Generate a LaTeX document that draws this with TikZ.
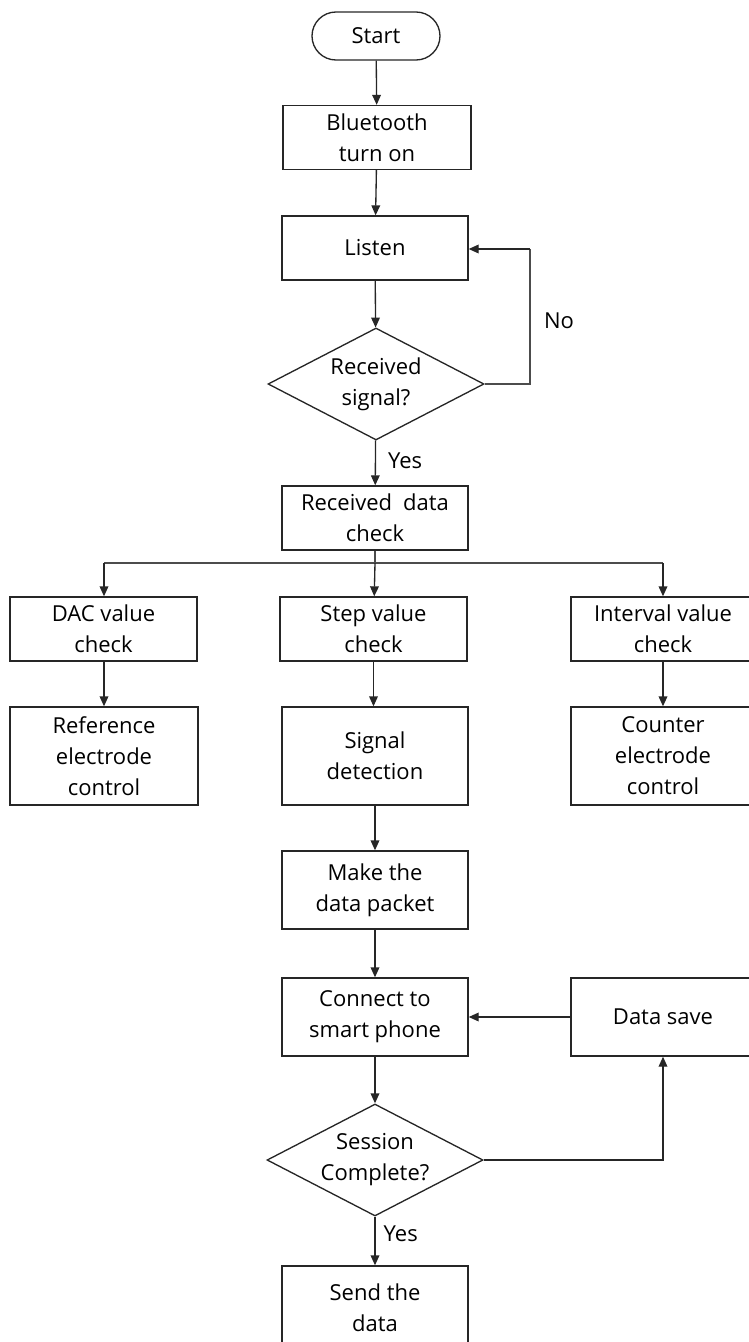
\documentclass[tikz,border=0pt]{standalone}
\usepackage{fontspec}
\setmainfont{Open Sans}
\usetikzlibrary{arrows.meta,shapes.geometric,shapes.misc}
\begin{document}
\begin{tikzpicture}[x=0.75pt,y=-0.75pt,
  every node/.style={font=\fontsize{16.5}{23.25}\selectfont, align=center, text=black},
  box/.style={draw=black!85, line width=1pt, rectangle, inner sep=0pt, minimum width=#1},
  box/.default=139.5pt,
  hbox/.style={minimum height=48pt},
  tbox/.style={minimum height=73.5pt},
  mbox/.style={minimum height=58.5pt},
  term/.style={draw=black!85, line width=1pt, rounded rectangle, inner sep=0pt, minimum width=96pt, minimum height=36pt},
  dec/.style={draw=black!85, line width=1pt, diamond, aspect=1.93, inner sep=0pt, minimum width=162pt, minimum height=84pt},
  arr/.style={draw=black!85, line width=1pt, -{Triangle[length=7.5pt,width=6.5pt]}},
  ln/.style={draw=black!70, line width=1pt},
  lbl/.style={inner sep=0pt}
]
\useasboundingbox (0,0) rectangle (749,1342);
\node[term] (start) at (376,36) {Start};
\node[box=141pt, minimum height=48pt] (bt) at (377,137.5) {Bluetooth\\turn on};
\node[box, hbox] (listen) at (375,248) {Listen};
\node[dec] (d1) at (376,384) {Received\\signal?};
\node[box, hbox] (rdc) at (375,518) {Received\enspace data\\check};
\node[box=140.25pt, hbox] (dac) at (103.5,629) {DAC value\\check};
\node[box=140.25pt, hbox] (step) at (373.5,629) {Step value\\check};
\node[box=138pt, hbox] (intv) at (663,629) {Interval value\\check};
\node[box=141pt, tbox] (ref) at (104,756) {Reference\\electrode\\control};
\node[box, tbox] (sig) at (375,756) {Signal\\detection};
\node[box=138pt, tbox] (cnt) at (663,756) {Counter\\electrode\\control};
\node[box, mbox] (make) at (375,890) {Make the\\data packet};
\node[box, mbox] (conn) at (375,1017) {Connect to\\smart phone};
\node[box=138pt, mbox] (save) at (663,1017) {Data save};
\node[dec] (d2) at (375,1160) {Session\\Complete?};
\node[box, minimum height=63pt] (send) at (375,1308) {Send the\\data};

\coordinate (br) at (375,563);
\coordinate (brl) at (104,563);
\coordinate (brr) at (663,563);
\coordinate (loop) at (530,384);
\coordinate (loopt) at (530,249);

\draw[arr] (start) -- (bt);
\draw[arr] (bt) -- (listen);
\draw[arr] (listen) -- (d1);
\draw[arr] (d1) -- node[lbl, right=9pt, pos=0.45] (yes1) {Yes} (rdc);
\draw[ln] (d1.east) -- (loop) -- (loopt);
\draw[arr] (loopt) -- (listen.east |- loopt);
\node[lbl] (no) at (559,321) {No};
\draw[ln] (rdc) -- (br);
\draw[ln] (brl) -- (brr);
\draw[arr] (br) -- (step);
\draw[arr] (brl) -- (dac.north -| brl);
\draw[arr] (brr) -- (intv.north -| brr);
\draw[arr] (dac.south -| brl) -- (ref.north -| brl);
\draw[arr] (step) -- (step |- sig.north);
\draw[arr] (intv) -- (cnt);
\draw[arr] (sig) -- (make);
\draw[arr] (make) -- (conn);
\draw[arr] (conn) -- (d2);
\draw[arr] (save) -- (conn);
\draw[arr] (d2.east) -| (save.south);
\draw[arr] (d2) -- node[lbl, right=6pt, pos=0.35] (yes2) {Yes} (send);
\end{tikzpicture}
\end{document}
